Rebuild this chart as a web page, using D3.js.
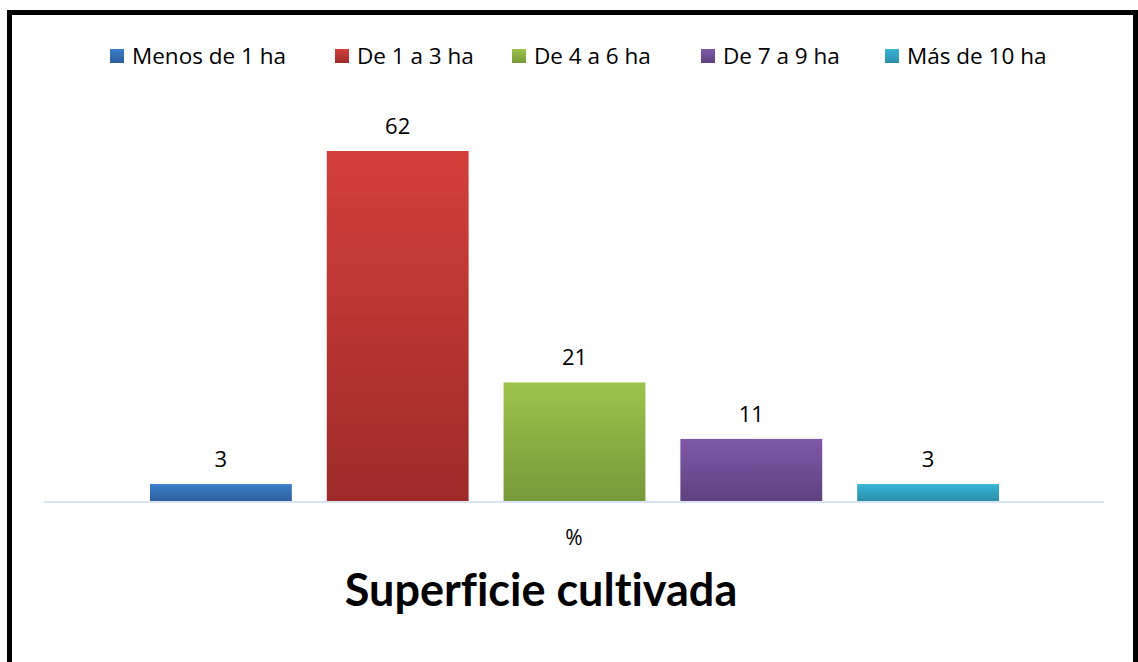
<!DOCTYPE html>
<html>
<head>
<meta charset="utf-8">
<script src="https://cdn.jsdelivr.net/npm/d3@7"></script>
<style>
  body { margin: 0; background: #fff; }
  text { font-family: "Open Sans", Lato, sans-serif; fill: #000; font-variant-ligatures: none; }
</style>
</head>
<body>
<div id="chart"></div>
<script>
// Chart data.
const categories = ["Menos de 1 ha", "De 1 a 3 ha", "De 4 a 6 ha", "De 7 a 9 ha", "Más de 10 ha"];
const values = [3, 62, 21, 11, 3];
const axisLabel = "%";
const title = "Superficie cultivada";

const Width = 1138;
const Height = 662;

// top / bottom gradient colours per series
const colorsTop = ["#3c7fcb", "#d33f3b", "#9cc44b", "#8058a9", "#39b6d8"];
const colorsBottom = ["#2d5e9c", "#9e2b2a", "#76993a", "#5e417f", "#2a8da8"];

const svg = d3.select("#chart")
    .append("svg")
        .attr("width", Width)
        .attr("height", Height);

// gradients
const defs = svg.append("defs");
categories.forEach((c, i) => {
    const g = defs.append("linearGradient")
        .attr("id", "grad" + i)
        .attr("x1", 0).attr("y1", 0).attr("x2", 0).attr("y2", 1);
    g.append("stop").attr("offset", "0%").attr("stop-color", colorsTop[i]);
    g.append("stop").attr("offset", "100%").attr("stop-color", colorsBottom[i]);
});

// frame
svg.append("rect")
    .attr("x", 9.5).attr("y", 12.5)
    .attr("width", 1126).attr("height", 670)
    .attr("fill", "none")
    .attr("stroke", "#000")
    .attr("stroke-width", 5);

// scales
const x = d3.scaleBand()
    .domain(categories)
    .range([132.5, 1016.5])
    .paddingInner(35 / 177)
    .paddingOuter(17.5 / 177);

const y = d3.scaleLinear()
    .domain([0, 62])
    .range([501, 151]);

// axis line
svg.append("line")
    .attr("x1", 44).attr("x2", 1104)
    .attr("y1", 502).attr("y2", 502)
    .attr("stroke", "#d9e5f3")
    .attr("stroke-width", 2);

// bars
svg.selectAll("rect.bar")
    .data(values)
    .join("rect")
        .attr("class", "bar")
        .attr("x", (d, i) => x(categories[i]))
        .attr("y", d => y(d))
        .attr("width", x.bandwidth())
        .attr("height", d => y(0) - y(d))
        .attr("fill", (d, i) => `url(#grad${i})`);

// value labels
svg.selectAll("text.val")
    .data(values)
    .join("text")
        .attr("class", "val")
        .attr("x", (d, i) => x(categories[i]) + x.bandwidth() / 2)
        .attr("y", d => y(d) - 17)
        .attr("text-anchor", "middle")
        .style("font-size", "22px")
        .text(d => d);

// axis category label
svg.append("text")
    .attr("x", 574)
    .attr("y", 545)
    .attr("text-anchor", "middle")
    .style("font-size", "21px")
    .text(axisLabel);

// title
svg.append("text")
    .attr("x", 541)
    .attr("y", 606)
    .attr("text-anchor", "middle")
    .style("font-family", "Lato, sans-serif")
    .style("font-size", "45px")
    .style("font-weight", "bold")
    .text(title);

// legend
const legendX = [110, 335, 512, 701, 885];
const legend = svg.selectAll("g.legend")
    .data(categories)
    .join("g")
        .attr("class", "legend")
        .attr("transform", (d, i) => `translate(${legendX[i]},49)`);
legend.append("rect")
    .attr("width", 14).attr("height", 14)
    .attr("fill", (d, i) => `url(#grad${i})`);
legend.append("text")
    .attr("x", 22)
    .attr("y", 15)
    .style("font-size", "22.5px")
    .text(d => d);
</script>
</body>
</html>
